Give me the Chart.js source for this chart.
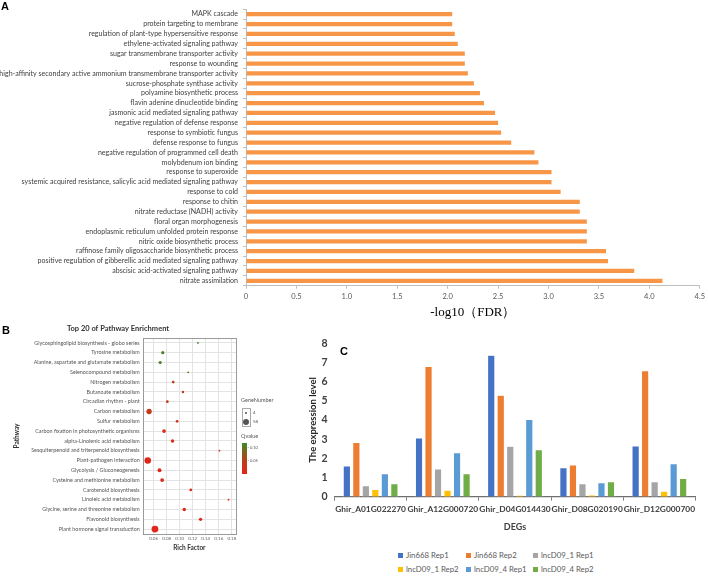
<!DOCTYPE html>
<html><head><meta charset="utf-8">
<script src="https://cdn.jsdelivr.net/npm/chart.js@4"></script>
<style>
body{margin:0;background:#fff;}
#page{position:relative;width:708px;height:580px;overflow:hidden;background:#fff;}
canvas{position:absolute;}
.pl{position:absolute;font-family:'Liberation Sans',Arial,sans-serif;font-weight:bold;font-size:11px;color:#000;line-height:1;}
.t{position:absolute;font-family:Lato,sans-serif;color:#555;line-height:1;white-space:nowrap;}
.lg{position:absolute;font-family:Lato,sans-serif;font-size:7.8px;white-space:nowrap;line-height:1;}
.lg b{display:inline-block;width:5px;height:5px;margin-right:3px;vertical-align:0px;}
.lg span{color:#595959;font-weight:normal;}
</style></head><body><div id="page">
<canvas id="cA" width="708" height="322" style="left:0;top:0"></canvas>
<canvas id="cB" width="276" height="240" style="left:0;top:322px"></canvas>
<canvas id="cC" width="418" height="205" style="left:290px;top:330px"></canvas>
<div class="pl" style="left:1px;top:1px">A</div>
<div class="pl" style="left:2px;top:325px">B</div>
<div class="pl" style="left:340px;top:346px">C</div>
<div id="legB"></div>
<div id="legC"></div>
</div>
<script>
// ---------- Panel A data ----------
const goTerms = [
 "MAPK cascade","protein targeting to membrane","regulation of plant-type hypersensitive response",
 "ethylene-activated signaling pathway","sugar transmembrane transporter activity","response to wounding",
 "high-affinity secondary active ammonium transmembrane transporter activity","sucrose-phosphate synthase activity",
 "polyamine biosynthetic process","flavin adenine dinucleotide binding","jasmonic acid mediated signaling pathway",
 "negative regulation of defense response","response to symbiotic fungus","defense response to fungus",
 "negative regulation of programmed cell death","molybdenum ion binding","response to superoxide",
 "systemic acquired resistance, salicylic acid mediated signaling pathway","response to cold","response to chitin",
 "nitrate reductase (NADH) activity","floral organ morphogenesis","endoplasmic reticulum unfolded protein response",
 "nitric oxide biosynthetic process","raffinose family oligosaccharide biosynthetic process",
 "positive regulation of gibberellic acid mediated signaling pathway","abscisic acid-activated signaling pathway",
 "nitrate assimilation"];
const goLogFDR = [2.045,2.045,2.07,2.10,2.17,2.17,2.20,2.26,2.32,2.36,2.47,2.50,2.53,2.63,2.86,2.90,3.03,3.03,3.12,3.31,3.31,3.38,3.38,3.38,3.57,3.59,3.85,4.13];
const goTicks = [0,0.5,1,1.5,2,2.5,3,3.5,4,4.5];

// ---------- Panel B data ----------
const pathways = ["Glycosphingolipid biosynthesis - globo series","Tyrosine metabolism","Alanine, aspartate and glutamate metabolism",
 "Selenocompound metabolism","Nitrogen metabolism","Butanoate metabolism","Circadian rhythm - plant","Carbon metabolism",
 "Sulfur metabolism","Carbon fixation in photosynthetic organisms","alpha-Linolenic acid metabolism",
 "Sesquiterpenoid and triterpenoid biosynthesis","Plant-pathogen interaction","Glycolysis / Gluconeogenesis",
 "Cysteine and methionine metabolism","Carotenoid biosynthesis","Linoleic acid metabolism",
 "Glycine, serine and threonine metabolism","Flavonoid biosynthesis","Plant hormone signal transduction"];
const richFactor = [0.128,0.074,0.070,0.113,0.090,0.105,0.081,0.053,0.096,0.076,0.089,0.161,0.051,0.069,0.073,0.117,0.175,0.107,0.132,0.062];
const geneNumber = [4,8,8,4,6,5,6,30,6,12,10,4,52,14,12,6,4,10,9,58];
const qValue = [0.115,0.11,0.11,0.095,0.045,0.035,0.04,0.038,0.02,0.02,0.02,0.015,0.01,0.012,0.012,0.015,0.01,0.01,0.012,0.005];

// ---------- Panel C data ----------
const degs = ["Ghir_A01G022270","Ghir_A12G000720","Ghir_D04G014430","Ghir_D08G020190","Ghir_D12G000700"];
const seriesNames = ["Jin668 Rep1","Jin668 Rep2","lncD09_1 Rep1","lncD09_1 Rep2","lncD09_4 Rep1","lncD09_4 Rep2"];
const jin668Rep1 = [1.60,3.07,7.38,1.52,2.65];
const jin668Rep2 = [2.83,6.80,5.29,1.66,6.57];
const lnc1Rep1  = [0.58,1.45,2.63,0.68,0.79];
const lnc1Rep2  = [0.38,0.34,0.085,0.10,0.29];
const lnc4Rep1  = [1.20,2.30,4.03,0.73,1.72];
const lnc4Rep2  = [0.68,1.20,2.46,0.79,0.96];
const seriesColors = ["#4472C4","#ED7D31","#A5A5A5","#FFC000","#5B9BD5","#70AD47"];

const SANS = "Lato,'Liberation Sans',sans-serif";
Chart.defaults.animation = false;
Chart.defaults.responsive = false;
Chart.defaults.plugins.tooltip.enabled = false;

// ---------- Chart A ----------
new Chart(document.getElementById('cA'), {
  type: 'bar',
  data: { labels: goTerms, datasets: [{ data: goLogFDR, backgroundColor: '#F79646', categoryPercentage: 1, barPercentage: 0.43 }] },
  options: {
    indexAxis: 'y',
    layout: { padding: { top: 1.3, right: 6, left: 0, bottom: 0 } },
    plugins: { legend: { display: false } },
    scales: {
      x: {
        min: 0, max: 4.5,
        afterBuildTicks: s => { s.ticks = goTicks.map(v => ({ value: v })); },
        ticks: { font: { family: SANS, size: 7.5 }, color: '#595959', padding: 3 },
        grid: { drawOnChartArea: false, tickLength: 3, color: '#bfbfbf' },
        border: { color: '#bfbfbf' },
        title: { display: true, text: '-log10（FDR）', font: { family: "'Liberation Serif','Times New Roman',serif", size: 13 }, color: '#000', padding: { top: 0, bottom: 2 } },
        afterFit: s => { s.height = 36.3; }
      },
      y: {
        ticks: { font: { family: SANS, size: 7.05 }, color: '#404040', padding: 5, autoSkip: false },
        grid: { drawOnChartArea: false, tickLength: 3, color: '#bfbfbf', offset: true },
        border: { color: '#bfbfbf' },
        afterFit: s => { s.width = 246; }
      }
    }
  }
});

// ---------- Chart B ----------
function qColor(q) {
  const t = Math.max(0, Math.min(1, q / 0.12));
  const stops = [[232, 34, 26], [172, 72, 24], [56, 140, 40]];
  let a, b, u;
  if (t < 0.5) { a = stops[0]; b = stops[1]; u = t / 0.5; } else { a = stops[1]; b = stops[2]; u = (t - 0.5) / 0.5; }
  const c = a.map((v, i) => Math.round(v + (b[i] - v) * u));
  return `rgb(${c[0]},${c[1]},${c[2]})`;
}
function geneRadius(n) { return 0.9 + 2.5 * Math.sqrt((n - 4) / 54); }

const boxPlugin = {
  id: 'box',
  afterDraw(chart) {
    const { ctx, chartArea: a } = chart;
    ctx.save(); ctx.strokeStyle = '#9a9a9a'; ctx.lineWidth = 1;
    ctx.strokeRect(Math.round(a.left) + 0.5, Math.round(a.top) + 0.5, Math.round(a.right - a.left), Math.round(a.bottom - a.top));
    ctx.restore();
  }
};

new Chart(document.getElementById('cB'), {
  type: 'bubble',
  data: {
    labels: pathways,
    datasets: [{
      data: pathways.map((p, i) => ({ x: richFactor[i], y: p, r: geneRadius(geneNumber[i]) })),
      backgroundColor: qValue.map(qColor), borderWidth: 0, clip: false
    }]
  },
  options: {
    layout: { padding: { top: 0, right: 40, left: 0, bottom: 0 } },
    plugins: {
      legend: { display: false },
      title: { display: true, text: 'Top 20 of Pathway Enrichment', font: { family: SANS, size: 7.5, weight: 'bold' }, color: '#333', padding: { top: 2.5, bottom: 4.5 } }
    },
    scales: {
      x: {
        type: 'linear', min: 0.0432, max: 0.1864,
        ticks: { stepSize: 0.02, includeBounds: false, callback: v => v.toFixed(2), font: { family: SANS, size: 4.5 }, color: '#666', padding: 2, maxRotation: 0 },
        grid: { color: '#e3e3e3', drawTicks: false },
        border: { display: false },
        title: { display: true, text: 'Rich Factor', font: { family: SANS, size: 6.5, weight: 'bold' }, color: '#333', padding: { top: 0, bottom: 10 } },
        afterFit: s => { s.height = 28; }
      },
      y: {
        type: 'category', labels: pathways, offset: true,
        ticks: { font: { family: SANS, size: 5.4 }, color: '#555', padding: 3, autoSkip: false },
        grid: { color: '#e3e3e3', drawTicks: false },
        border: { display: false },
        title: { display: true, text: 'Pathway', font: { family: SANS, size: 6.5, weight: 'bold' }, color: '#333', padding: { top: 13, bottom: 0 } },
        afterFit: s => { s.width = 142.7; }
      }
    }
  },
  plugins: [boxPlugin]
});

// Legend B (HTML)
(function () {
  const L = document.getElementById('legB');
  L.innerHTML =
    '<div class="t" style="left:241px;top:398px;font-size:5.5px">GeneNumber</div>' +
    '<div style="position:absolute;left:241.5px;top:408px;width:9px;height:19px;border:0.7px solid #aaa;box-sizing:border-box"></div>' +
    `<div style="position:absolute;left:${246 - 0.9}px;top:${412.7 - 0.9}px;width:1.8px;height:1.8px;border-radius:50%;background:#555"></div>` +
    `<div style="position:absolute;left:${246 - 3.4}px;top:${422 - 3.4}px;width:6.8px;height:6.8px;border-radius:50%;background:#555"></div>` +
    '<div class="t" style="left:253px;top:410.5px;font-size:4.5px">4</div>' +
    '<div class="t" style="left:253px;top:420px;font-size:4.5px">58</div>' +
    '<div class="t" style="left:241px;top:433.5px;font-size:5.5px">Qvalue</div>' +
    `<div style="position:absolute;left:242px;top:443px;width:5.3px;height:31px;background:linear-gradient(to bottom, ${qColor(0.12)}, ${qColor(0.06)}, ${qColor(0)})"></div>` +
    '<div class="t" style="left:247.5px;top:446px;font-size:4px">- 0.10</div>' +
    '<div class="t" style="left:247.5px;top:459px;font-size:4px">- 0.05</div>';
})();

// ---------- Chart C ----------
const cSeries = [jin668Rep1, jin668Rep2, lnc1Rep1, lnc1Rep2, lnc4Rep1, lnc4Rep2];
new Chart(document.getElementById('cC'), {
  type: 'bar',
  data: {
    labels: degs,
    datasets: cSeries.map((d, i) => ({ label: seriesNames[i], data: d, backgroundColor: seriesColors[i], borderColor: '#ffffff', borderWidth: 0.6, categoryPercentage: 0.79, barPercentage: 0.78 }))
  },
  options: {
    layout: { padding: { top: 10.5, right: 12.5, left: 0, bottom: 0 } },
    plugins: { legend: { display: false } },
    scales: {
      x: {
        ticks: { font: { family: SANS, size: 8.4, weight: 'bold' }, color: '#404040', padding: 4, maxRotation: 0, autoSkip: false },
        grid: { drawOnChartArea: false, tickLength: 4, color: '#7f7f7f', offset: true },
        border: { color: '#6f6f6f', width: 1.3 },
        title: { display: true, text: 'DEGs', font: { family: SANS, size: 9, weight: 'bold' }, color: '#404040', padding: { top: 0, bottom: 2.5 } },
        afterFit: s => { s.height = 38.3; }
      },
      y: {
        min: 0, max: 8,
        ticks: { stepSize: 1, font: { family: SANS, size: 10.5, weight: 'bold' }, color: '#404040', padding: 7 },
        grid: { display: false, drawTicks: false },
        border: { display: false },
        title: { display: true, text: 'The expression level', font: { family: SANS, size: 9.5, weight: 'bold' }, color: '#262626', padding: { top: 17, bottom: 0 } },
        afterFit: s => { s.width = 44.5; }
      }
    }
  }
});

// Legend C (HTML)
(function () {
  const L = document.getElementById('legC');
  const pos = [[398, 551.5], [466, 551.5], [533, 551.5], [398, 565.5], [466, 565.5], [533, 565.5]];
  L.innerHTML = seriesNames.map((n, i) =>
    `<div class="lg" style="left:${pos[i][0]}px;top:${pos[i][1]}px"><b style="background:${seriesColors[i]}"></b><span>${n}</span></div>`).join('');
})();
</script>
</body></html>
